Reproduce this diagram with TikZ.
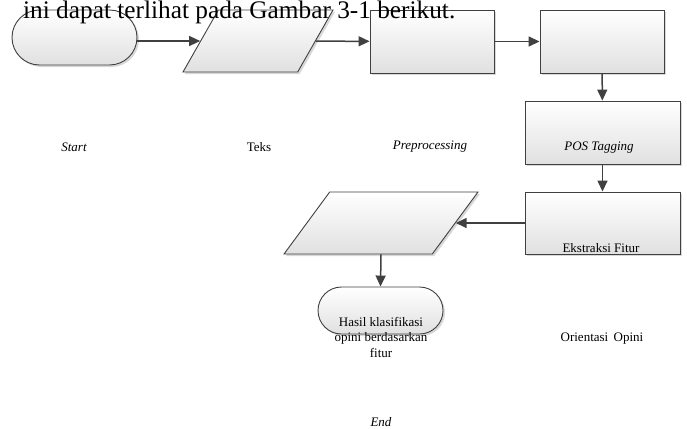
\documentclass[tikz,border=0pt]{standalone}
\usepackage{fontspec}
\setmainfont{Liberation Serif}
\usetikzlibrary{arrows.meta,shapes.misc,shapes.geometric,shadows}

\definecolor{edgegray}{HTML}{404040}

\begin{document}
\begin{tikzpicture}[x=1pt, y=-1pt,
		base/.style={draw=edgegray, line width=0.9pt, top color=white, bottom color=black!12,
			drop shadow={shadow xshift=2pt, shadow yshift=-2pt, fill=black!30}, inner sep=0pt},
		term/.style={base, rounded rectangle, minimum width=125pt},
		proc/.style={base, rectangle, minimum width=124pt, minimum height=63pt},
		data/.style={base, trapezium, trapezium left angle=66, trapezium right angle=114,
			trapezium stretches=true, inner sep=1pt, minimum height=62pt},
		lbl/.style={font=\fontsize{13}{15.5}\selectfont, align=center, inner sep=0pt},
		itlbl/.style={lbl, font=\fontsize{13}{15.5}\selectfont\itshape},
		flow/.style={draw=edgegray, line width=1.5pt, -{Triangle[length=11pt,width=10pt]}}]

		\useasboundingbox (0,0) rectangle (687,428);

		% shapes of the flow
		\node[term, minimum height=55pt] (start) at (74.5,37.5) {};
		\node[data, minimum width=150pt] (teks) at (258,41) {};
		\node[proc] (prep) at (432,41.5) {};
		\node[proc] (orient) at (602,41.5) {};
		\node[proc, minimum width=155pt] (pos) at (602.5,132.5) {};
		\node[proc, minimum width=155pt, minimum height=62pt] (ekstr) at (602.5,223) {};
		\node[data, minimum width=194pt] (hasil) at (381,223) {};
		\node[term, minimum height=47pt] (stop) at (380.5,310.5) {};

		% connectors
		\draw[flow] (start.east |- teks.west) -- (teks.west);
		\draw[flow] (teks) -- (prep);
		\draw[flow] (prep) -- (orient);
		\draw[flow] (orient) -- (pos);
		\draw[flow] (pos) -- (ekstr);
		\draw[flow] (ekstr) -- (hasil);
		\draw[flow] (hasil.south) -- (stop.north);

		% labels (shifted away from their shapes)
		\node[itlbl] (lblstart) at (74,147) {Start};
		\node[lbl] (lblteks) at (259,147) {Teks};
		\node[itlbl] (lblprep) at (430,147) {Preprocessing};
		\node[itlbl] (lblpos) at (599,148) {POS Tagging};
		\node[lbl] (lblekstr) at (601,248) {Ekstraksi Fitur};
		\node[lbl] (lblorient) at (602,339) {Orientasi\, Opini};
		\node[lbl] (lblhasil) at (381,337) {Hasil klasifikasi\\opini berdasarkan\\fitur};
		\node[itlbl] (lblend) at (381,422) {End};

		% body text line over the picture
		\node[anchor=base west, inner sep=0pt, font=\fontsize{25.3}{30}\selectfont] (bodytext) at (23,19)
			{ini dapat terlihat pada Gambar 3-1 berikut.};

	\end{tikzpicture}
\end{document}
